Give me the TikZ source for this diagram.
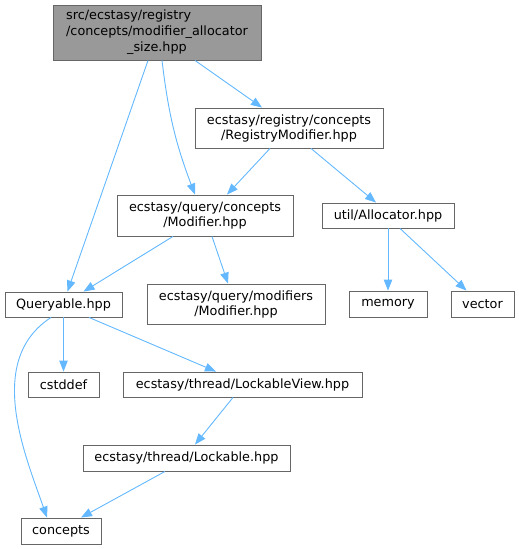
\documentclass[tikz,border=0pt]{standalone}
\usepackage{fontspec}
\setmainfont{DejaVu Sans}
\usetikzlibrary{arrows.meta}
\definecolor{edgeblue}{HTML}{63B8FF}
\definecolor{boxgray}{HTML}{666666}
\definecolor{rootfill}{HTML}{999999}
\tikzset{
  box/.style={draw=boxgray, line width=0.9pt, fill=white, inner sep=0pt, align=center,
    font=\fontsize{12.8}{15}\selectfont, text=black},
  rootbox/.style={box, fill=rootfill},
  dep/.style={draw=edgeblue, line width=0.9pt, -{Triangle[length=11pt,width=8.5pt]}}
}
\begin{document}
\begin{tikzpicture}[x=1pt,y=-1pt]
\useasboundingbox (0,0) rectangle (519,549);
\node[rootbox, minimum width=208, minimum height=55] (root) at (157,32.5)
  {\renewcommand\arraystretch{1.07}\begin{tabular}{@{}l@{}}src/ecstasy/registry\\/concepts/modifier\_allocator\\\multicolumn{1}{@{}c@{}}{\_size.hpp}\end{tabular}};
\node[box, minimum width=188, minimum height=40] (rm) at (289,128)
  {ecstasy/registry/concepts\\/RegistryModifier.hpp};
\node[box, minimum width=176, minimum height=41] (qm) at (205,215.5)
  {ecstasy/query/concepts\\/Modifier.hpp};
\node[box, minimum width=132, minimum height=25] (alloc) at (388,215.5)
  {util/Allocator.hpp};
\node[box, minimum width=117, minimum height=25] (qa) at (63.5,304.5)
  {Queryable.hpp};
\node[box, minimum width=178, minimum height=40] (mm) at (236,304)
  {ecstasy/query/modifiers\\/Modifier.hpp};
\node[box, minimum width=78, minimum height=26] (mem) at (388,304)
  {memory};
\node[box, minimum width=63, minimum height=26] (vec) at (482.5,304)
  {vector};
\node[box, minimum width=71, minimum height=25] (cst) at (63.5,384.5)
  {cstddef};
\node[box, minimum width=239, minimum height=25] (lv) at (242.5,384.5)
  {ecstasy/thread/LockableView.hpp};
\node[box, minimum width=207, minimum height=26] (lk) at (186.5,458)
  {ecstasy/thread/Lockable.hpp};
\node[box, minimum width=80, minimum height=26] (con) at (61,531)
  {concepts};

\draw[dep] ([xshift=-9]root.south) -- ([xshift=4]qa.north);
\draw[dep] ([xshift=5]root.south) to[bend right=7] ([xshift=-10]qm.north);
\draw[dep] ([xshift=38]root.south) -- ([xshift=-27]rm.north);
\draw[dep] ([xshift=-19]rm.south) -- ([xshift=22]qm.north);
\draw[dep] ([xshift=22]rm.south) -- ([xshift=-12]alloc.north);
\draw[dep] ([xshift=-32]qm.south) -- ([xshift=20]qa.north);
\draw[dep] ([xshift=7]qm.south) -- ([xshift=-8]mm.north);
\draw[dep] (alloc.south) -- (mem.north);
\draw[dep] ([xshift=12]alloc.south) -- ([xshift=-16]vec.north);
\draw[dep] (qa.south) -- (cst.north);
\draw[dep] ([xshift=25.5]qa.south) -- ([xshift=-26.5]lv.north);
\draw[dep] ([xshift=-12.5]qa.south) .. controls +(-66,43) and +(-22,-63) .. ([xshift=-14]con.north);
\draw[dep] ([xshift=-9.5]lv.south) -- ([xshift=8.5]lk.north);
\draw[dep] ([xshift=-21.5]lk.south) -- ([xshift=20]con.north);
\end{tikzpicture}
\end{document}
